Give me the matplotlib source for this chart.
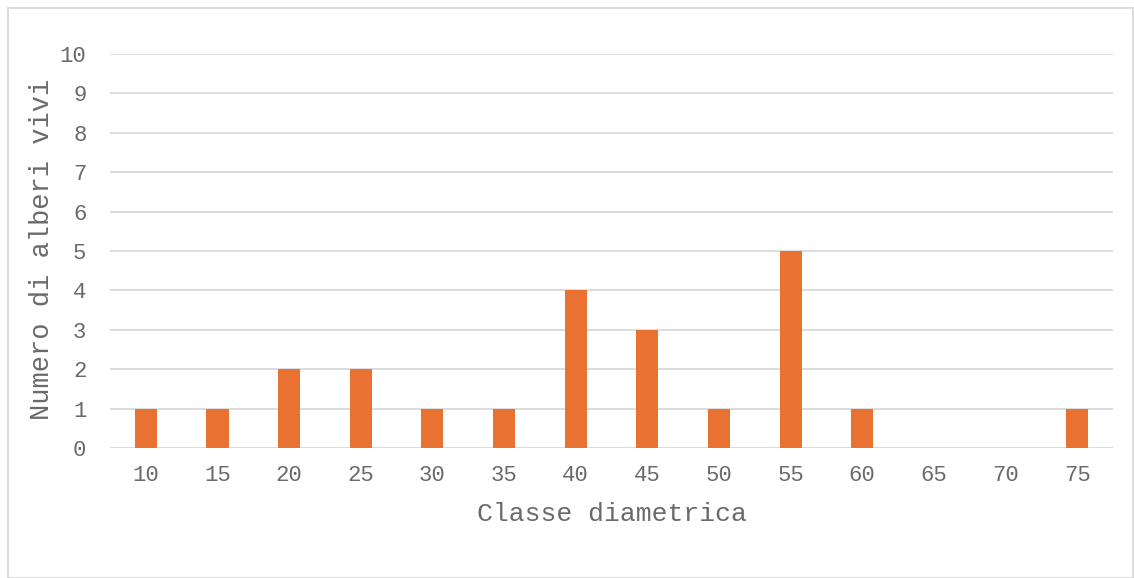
import matplotlib.pyplot as plt
import numpy as np
from matplotlib.patches import Rectangle

# Classi diametriche e numero di alberi vivi
classi = ['10', '15', '20', '25', '30', '35', '40', '45', '50', '55', '60', '65', '70', '75']
alberi = [1, 1, 2, 2, 1, 1, 4, 3, 1, 5, 1, 0, 0, 1]

plt.rcParams['font.family'] = ['Liberation Mono', 'DejaVu Sans Mono']

fig = plt.figure(figsize=(11.34, 5.78), dpi=100)
ax = fig.add_axes([110 / 1134, 1 - 448 / 578, (1113 - 110) / 1134, (448 - 54) / 578])

x = np.arange(len(classi))
ax.bar(x, alberi, width=0.31, color='#E97132', zorder=3)

ax.set_xlim(-0.5, len(classi) - 0.5)
ax.set_ylim(0, 10)
ax.set_yticks(range(0, 11))
ax.set_xticks(x)
ax.set_xticklabels(classi)
ax.grid(axis='y', color='#D9D9D9', linewidth=1.3, zorder=0)
for s in ax.spines.values():
    s.set_visible(False)
ax.tick_params(length=0, labelsize=16, colors='#6A6A6A', pad=12)
ax.tick_params(axis='y', pad=17)

ax.set_xlabel('Classe diametrica', fontsize=19, color='#6A6A6A')
ax.set_ylabel('Numero di alberi vivi', fontsize=19.5, color='#6A6A6A')
ax.xaxis.set_label_coords(0.5, -0.137)
ax.yaxis.set_label_coords(-0.055, 0.503)

# Bordo dell'area del grafico
fig.patches.append(Rectangle((8 / 1134, 0), 1 - 9 / 1134, 1 - 8 / 578, transform=fig.transFigure,
                             fill=False, edgecolor='#D9D9D9', linewidth=1.3))

fig.savefig('out.png', dpi=100)
